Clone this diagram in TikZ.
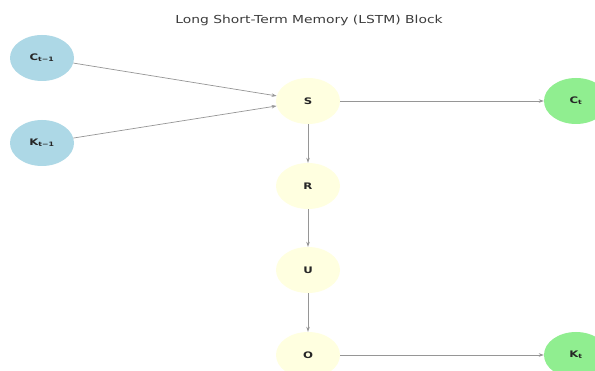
\documentclass[tikz,border=0pt]{standalone}
\usepackage{fontspec}
\setmainfont{DejaVu Sans}
\usetikzlibrary{shapes.geometric,arrows.meta}
\definecolor{inblue}{RGB}{173,216,230}
\definecolor{gateyellow}{RGB}{255,255,224}
\definecolor{outgreen}{RGB}{144,238,144}
\definecolor{edgegray}{RGB}{150,150,150}
\definecolor{titlegray}{RGB}{60,60,60}
\newcommand{\wide}[1]{\scalebox{1.3}[1]{#1}}
\tikzset{
  nd/.style={ellipse, minimum width=64pt, minimum height=46pt, inner sep=0pt, font=\bfseries\fontsize{9}{11}\selectfont, text=black!85},
  inp/.style={nd, fill=inblue},
  gate/.style={nd, fill=gateyellow},
  outp/.style={nd, fill=outgreen},
  conn/.style={draw=edgegray, line width=0.7pt, -{Stealth[length=5pt,width=3.5pt]}}
}
\begin{document}
\begin{tikzpicture}[x=1pt,y=-1pt]
\useasboundingbox (0,0) rectangle (595,371);
\fill[white] (0,0) rectangle (595,371);
\node[font=\fontsize{11}{13}\selectfont, text=titlegray] (title) at (309,20) {\scalebox{1.26}[1]{Long Short-Term Memory (LSTM) Block}};
\node[inp] (c1) at (42,58) {\wide{C\textsubscript{t−1}}};
\node[inp] (k1) at (42,143) {\wide{K\textsubscript{t−1}}};
\node[gate] (s) at (308,101) {\wide{S}};
\node[gate] (r) at (308,186) {\wide{R}};
\node[gate] (u) at (308,270) {\wide{U}};
\node[gate] (o) at (308,355) {\wide{O}};
\node[outp] (ct) at (576,101) {\wide{C\textsubscript{t}}};
\node[outp] (kt) at (576,355) {\wide{K\textsubscript{t}}};
\draw[conn] (c1) -- (s);
\draw[conn] (k1) -- (s);
\draw[conn] (s) -- (ct);
\draw[conn] (s) -- (r);
\draw[conn] (r) -- (u);
\draw[conn] (u) -- (o);
\draw[conn] (o) -- (kt);
\end{tikzpicture}
\end{document}
